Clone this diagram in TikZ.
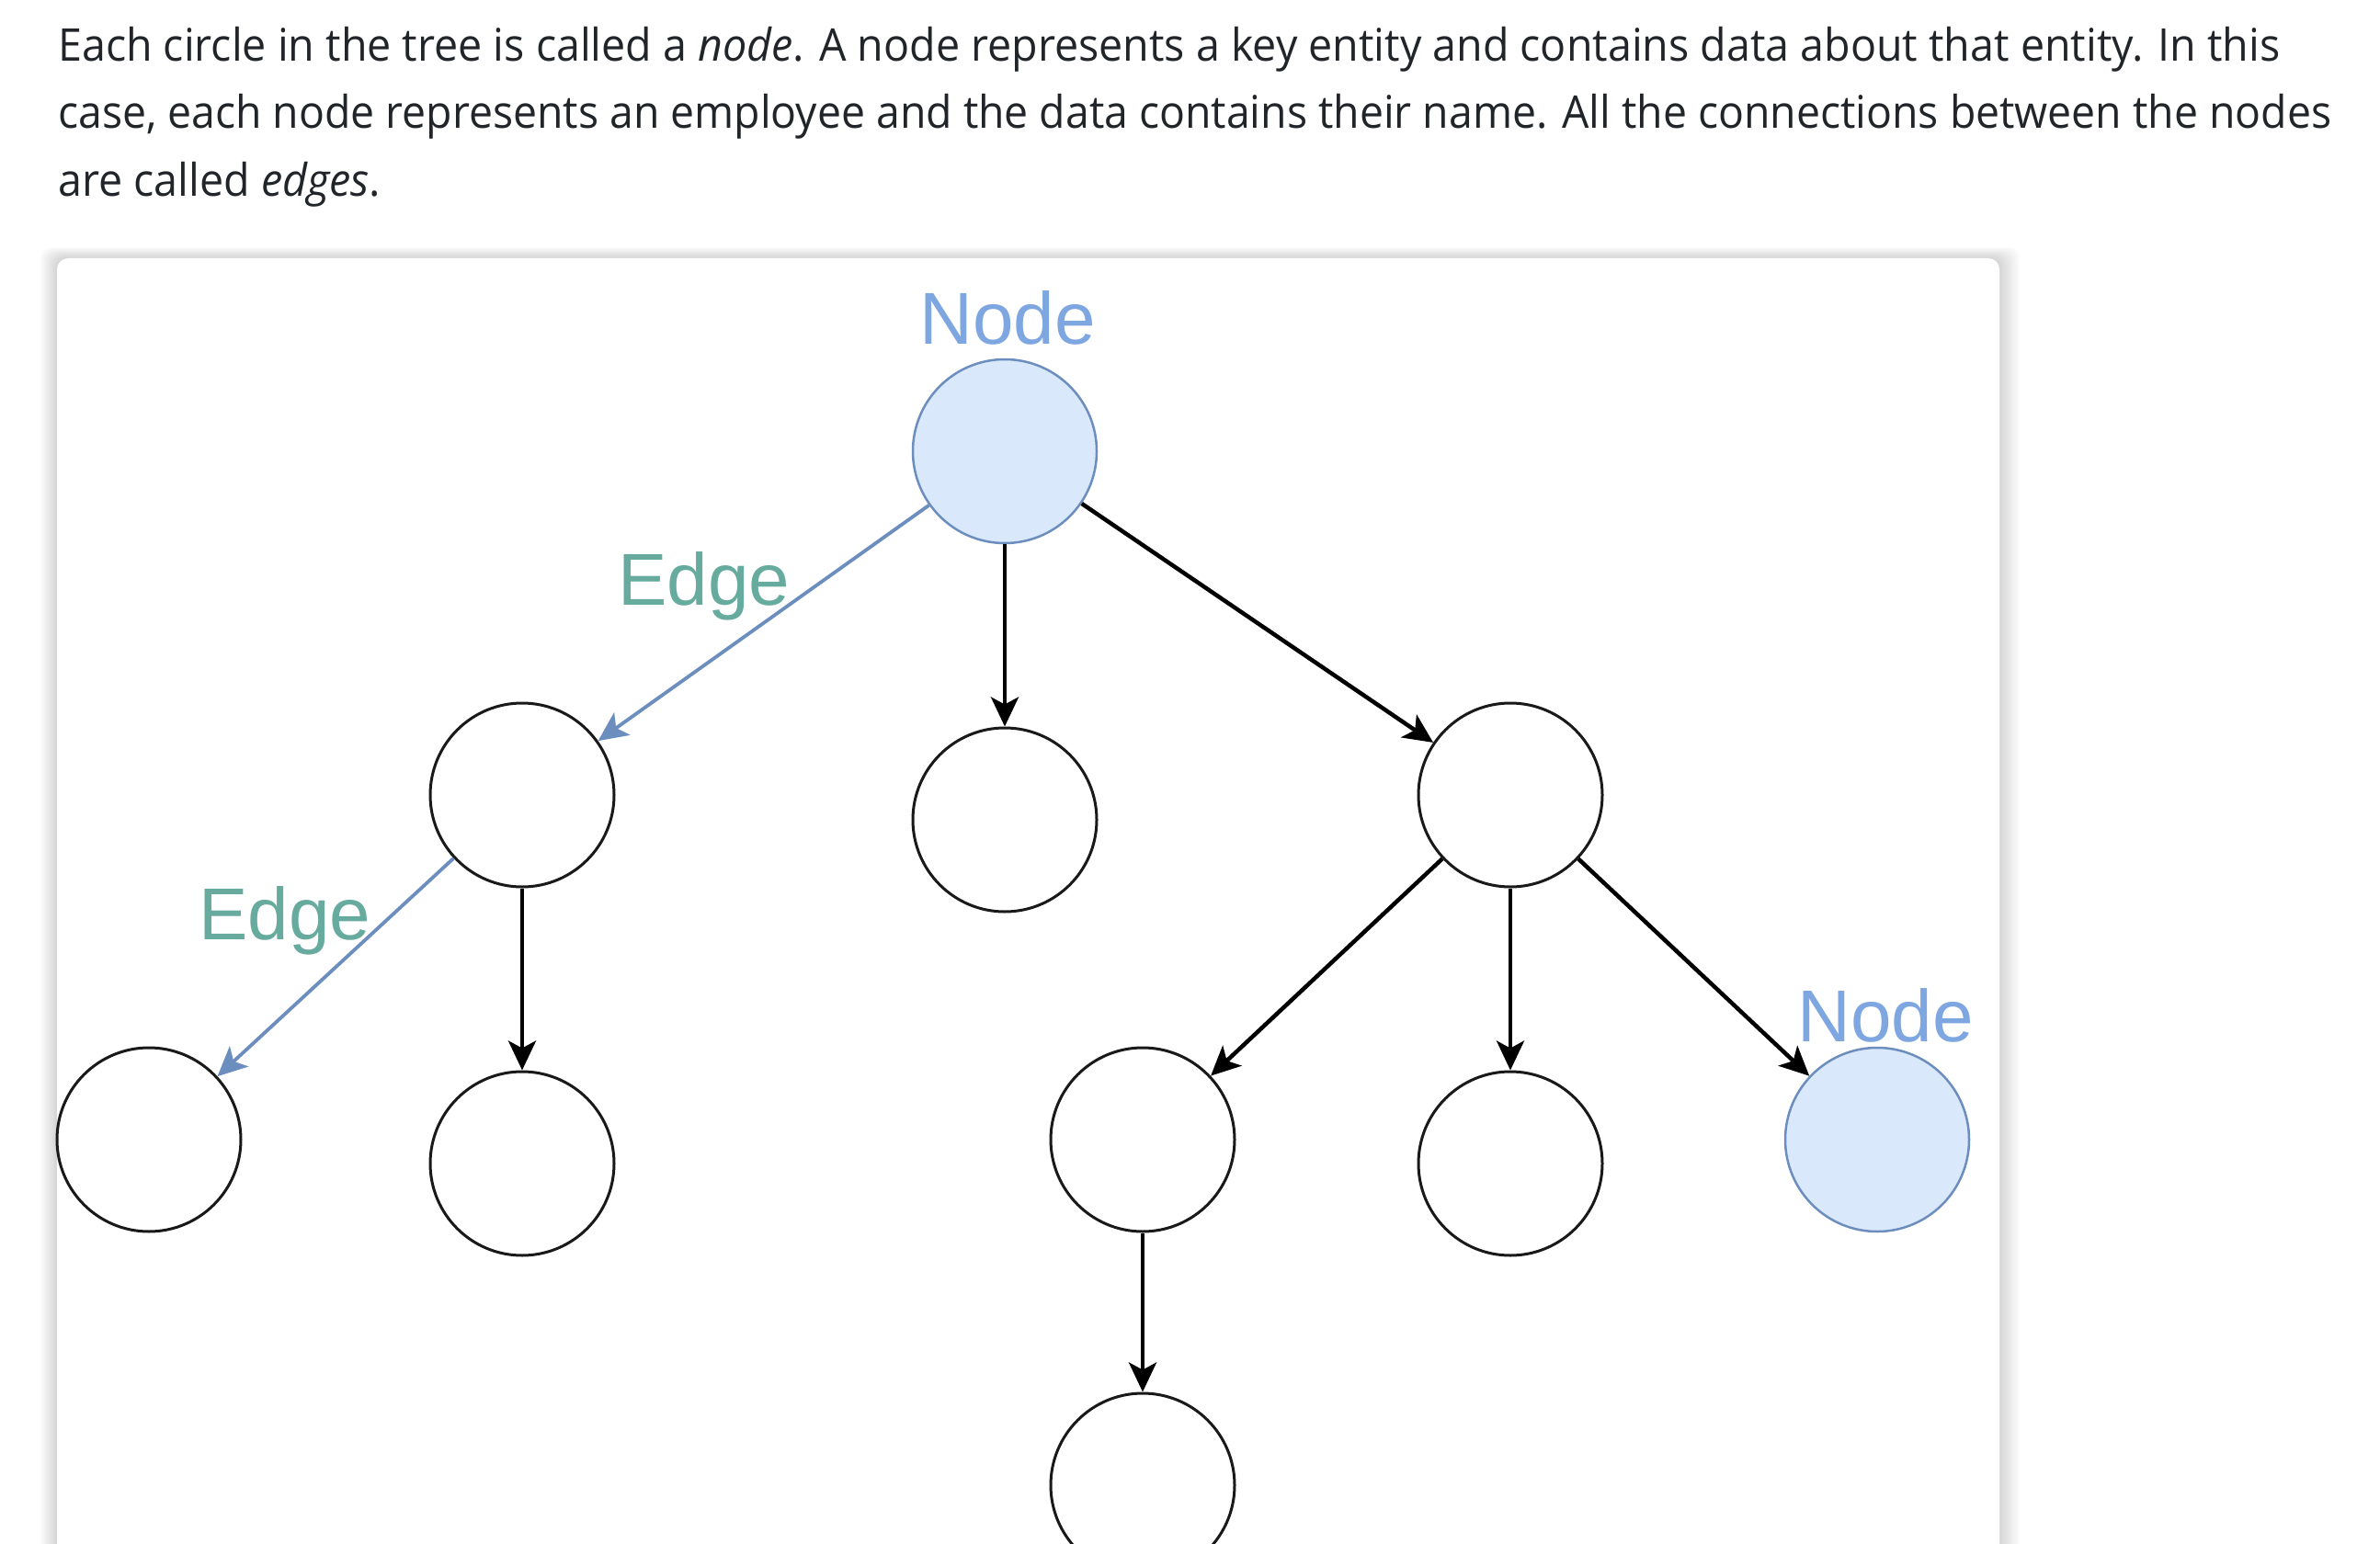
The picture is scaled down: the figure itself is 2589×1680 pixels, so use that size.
\documentclass[tikz,border=0pt]{standalone}
\usepackage{fontspec}
\setmainfont{Open Sans}
\newfontfamily\drawfont{Liberation Sans}
\usetikzlibrary{arrows.meta}
\definecolor{txt}{HTML}{212529}
\definecolor{nodeblue}{HTML}{7EA6E0}
\definecolor{edgegreen}{HTML}{67AB9F}
\definecolor{fillblue}{HTML}{DAE8FC}
\definecolor{strokeblue}{HTML}{6C8EBF}
\begin{document}
\begin{tikzpicture}[x=1pt,y=-1pt,
  tnode/.style={circle, draw=black!90, line width=3pt, fill=white, minimum size=200pt, inner sep=0pt},
  hnode/.style={tnode, draw=strokeblue, fill=fillblue, line width=2.5pt},
  arr/.style={draw=black, line width=4.5pt, -{Stealth[length=32pt,width=30pt,inset=8pt]}},
  barr/.style={draw=strokeblue, line width=3.8pt, -{Stealth[length=32pt,width=30pt,inset=8pt]}},
  lbl/.style={font=\drawfont\fontsize{80}{90}\selectfont, anchor=base, inner sep=0pt},
  body/.style={font=\fontsize{49}{60}\selectfont, text=txt, anchor=base west, inner sep=0pt}]
\fill[white] (0,0) rectangle (2589,1680);
\useasboundingbox (0,0) rectangle (2589,1680);
% body text
\node[body] (l1) at (63,66.7) {\resizebox{2417pt}{\height}{Each circle in the tree is called a \textit{node}. A node represents a key entity and contains data about that entity. In this}};
\node[body] (l2) at (63,140) {\resizebox{2473pt}{\height}{case, each node represents an employee and the data contains their name. All the connections between the nodes}};
\node[body] (l3) at (63,213.5) {\resizebox{351pt}{\height}{are called \textit{edges}.}};
% card with shadow
\begin{scope}
\clip (0,0) rectangle (2589,1680);
\foreach \i in {1,...,10}
  \fill[black, opacity=0.014, rounded corners=12pt] (62-1.8*\i, 281-1.2*\i) rectangle (2175+2.2*\i, 1800);
\fill[white, rounded corners=12pt] (62,281) rectangle (2175,1800);
\end{scope}
% tree nodes
\node[hnode] (root) at (1093,491) {};
\node[tnode] (a) at (568,865) {};
\node[tnode] (b) at (1093,892) {};
\node[tnode] (c) at (1643,865) {};
\node[tnode] (d) at (162,1240) {};
\node[tnode] (e) at (568,1266) {};
\node[tnode] (f) at (1243,1240) {};
\node[tnode] (g) at (1643,1266) {};
\node[hnode] (h) at (2042,1240) {};
\node[tnode] (i) at (1243,1616) {};
% edges
\draw[barr] (root) -- (a);
\draw[arr] (root) -- (b);
\draw[arr] (root) -- (c);
\draw[barr] (a) -- (d);
\draw[arr] (a) -- (e);
\draw[arr] (c) -- (f);
\draw[arr] (c) -- (g);
\draw[arr] (c) -- (h);
\draw[arr] (f) -- (i);
% labels
\node[lbl, text=nodeblue] (n1) at (1096,374) {Node};
\node[lbl, text=edgegreen] (e1) at (766,658) {Edge};
\node[lbl, text=edgegreen] (e2) at (310,1022) {Edge};
\node[lbl, text=nodeblue] (n2) at (2051,1133) {Node};
\end{tikzpicture}
\end{document}
